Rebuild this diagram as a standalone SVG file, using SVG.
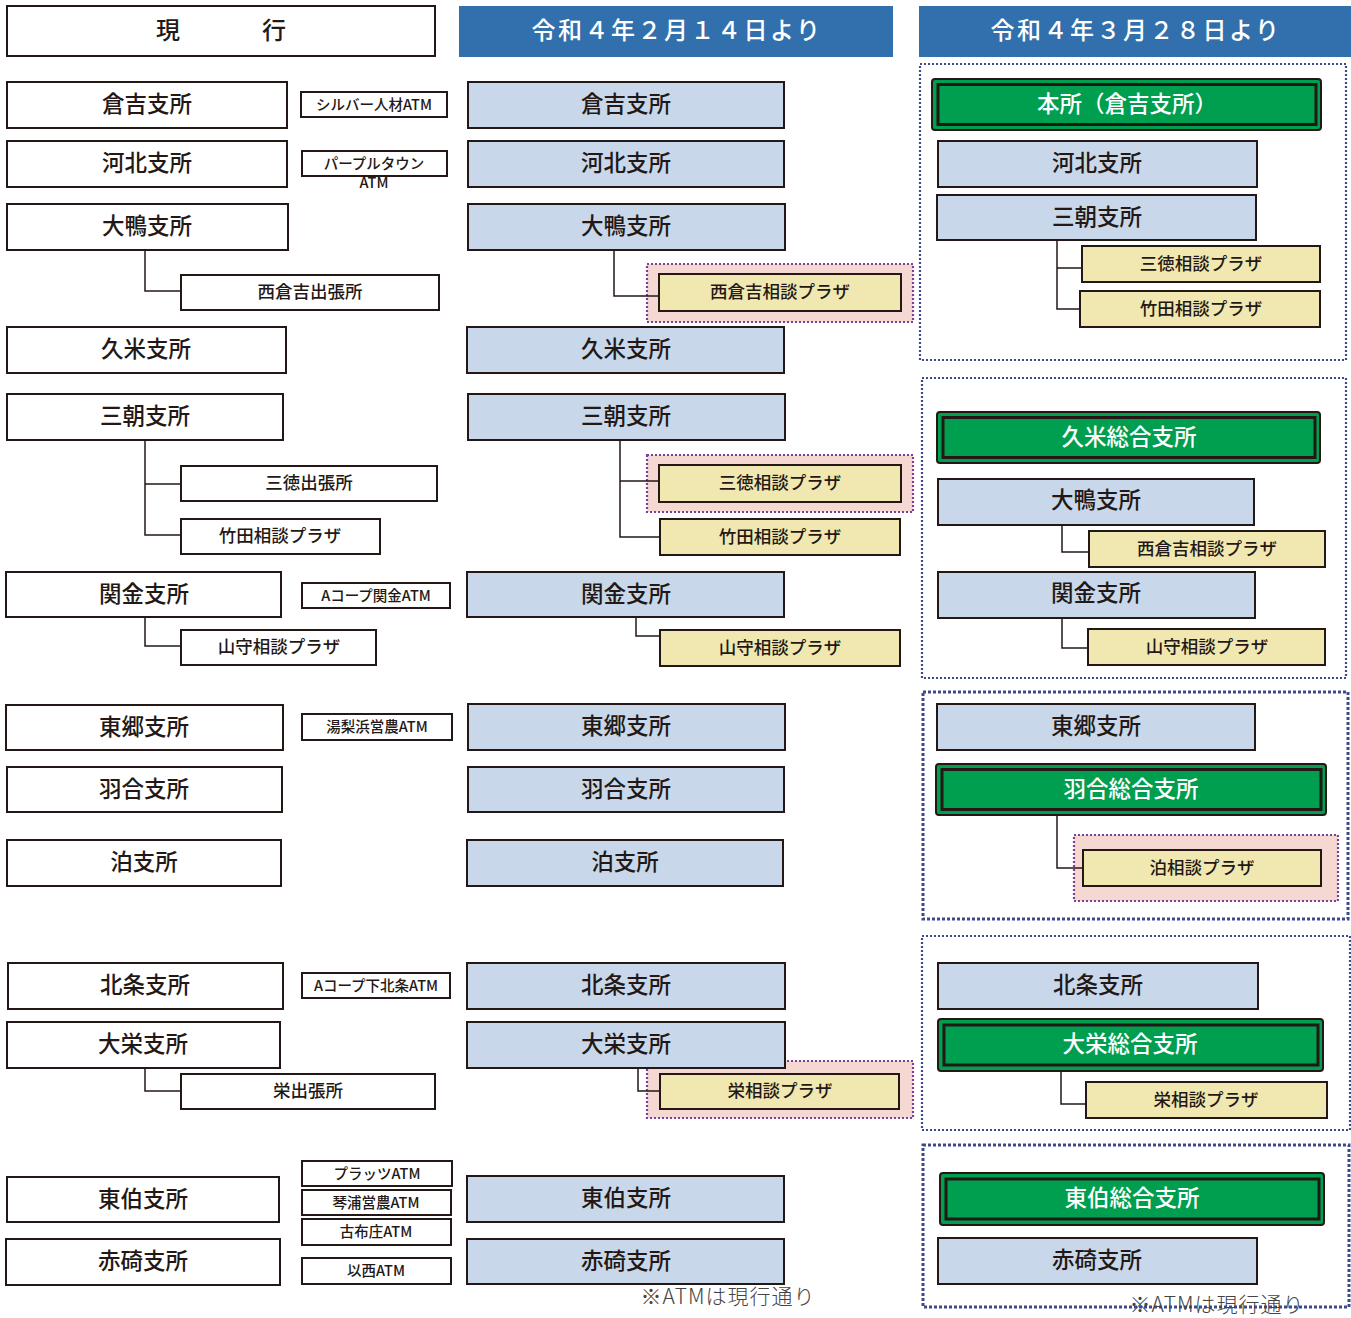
<svg xmlns="http://www.w3.org/2000/svg" width="1351" height="1318" viewBox="0 0 1351 1318">
<style>
text{font-family:"Noto Sans CJK JP","Noto Sans",sans-serif;fill:#231815;text-anchor:middle;dominant-baseline:central}
.b{fill:#fff;stroke:#231815;stroke-width:2}
.l{fill:#c8d8ea;stroke:#231815;stroke-width:2}
.y{fill:#f0e8b0;stroke:#231815;stroke-width:2}
.hd{fill:#3170ad}
.go{fill:#009e4f;stroke:#231815;stroke-width:2}
.gi{fill:none;stroke:#231815;stroke-width:3}
.pk{fill:#f5d8d2;stroke:#7b3f98;stroke-width:2.2;stroke-dasharray:2 2}
.grp{fill:none;stroke:#3c4a8c;stroke-width:2.2;stroke-dasharray:2 2}
.grp2{fill:none;stroke:#3c4a8c;stroke-width:3;stroke-dasharray:3 2}
.c{fill:none;stroke:#231815;stroke-width:1.5}
.n{font-size:22.5px;font-weight:500;transform:translateY(-3px)}
.p{font-size:17.5px;font-weight:500;transform:translateY(-2px)}
.a{font-size:14.5px;font-weight:500;transform:translateY(-1.5px)}
.h{font-size:24px;font-weight:500;fill:#fff;letter-spacing:2.5px;transform:translateY(-3px)}
.w{fill:#fff}
.note{font-size:21px;font-weight:300;fill:#444;letter-spacing:1px;transform:translateY(-2px)}
</style>

<!-- background groups -->
<g id="groups">
<rect class="grp" x="920" y="64" width="426" height="296"/>
<rect class="grp" x="922" y="378" width="424" height="300"/>
<rect class="grp2" x="923" y="692" width="425" height="227"/>
<rect class="grp" x="922" y="936" width="428" height="194"/>
<rect class="grp2" x="923" y="1145" width="426" height="162"/>
<rect class="pk" x="647" y="264" width="266" height="58"/>
<rect class="pk" x="647" y="455" width="266" height="57"/>
<rect class="pk" x="647" y="1061" width="266" height="57"/>
<rect class="pk" x="1074" y="835" width="264" height="66"/>
</g>

<g id="connectors">
<path class="c" d="M145 250V291H181"/>
<path class="c" d="M145 440V535H181M145 484H181"/>
<path class="c" d="M145 617V646H181"/>
<path class="c" d="M145 1068V1091H181"/>
<path class="c" d="M614 250V296H660"/>
<path class="c" d="M620 440V537H660M620 481H659"/>
<path class="c" d="M636 617V636H660"/>
<path class="c" d="M638 1068V1091H660"/>
<path class="c" d="M1057 240V309H1080M1057 268H1082"/>
<path class="c" d="M1062 525V552H1089"/>
<path class="c" d="M1062 618V648H1088"/>
<path class="c" d="M1057 815V868H1083"/>
<path class="c" d="M1061 1071V1104H1086"/>
</g>

<!-- headers -->
<g id="h1"><rect class="b" x="7" y="6" width="428" height="50"/><text class="h" style="fill:#231815;letter-spacing:0" y="31"><tspan x="168">現</tspan><tspan x="274">行</tspan></text></g>
<g id="h2"><rect class="hd" x="459" y="6" width="434" height="51"/><text class="h" x="677" y="31">令和４年２月１４日より</text></g>
<g id="h3"><rect class="hd" x="919" y="6" width="432" height="51"/><text class="h" x="1136" y="31">令和４年３月２８日より</text></g>

<!-- column 1 -->
<g id="c1-kurayoshi"><rect class="b" x="7" y="82" width="280" height="46"/><text class="n" x="147" y="105">倉吉支所</text></g>
<g id="c1-atm1"><rect class="b" x="301" y="92" width="146" height="25"/><text class="a" x="374" y="104.5">シルバー人材ATM</text></g>
<g id="c1-hokuhoku"><rect class="b" x="7" y="141" width="280" height="46"/><text class="n" x="147" y="164">河北支所</text></g>
<g id="c1-atm2"><rect class="b" x="302" y="151" width="145" height="25"/><text class="a" x="374" y="164">パープルタウン</text><text class="a" x="374" y="183">ATM</text></g>
<g id="c1-ogamo"><rect class="b" x="7" y="204" width="281" height="46"/><text class="n" x="147" y="227">大鴨支所</text></g>
<g id="c1-nishikurayoshi"><rect class="b" x="181" y="275" width="258" height="35"/><text class="p" x="310" y="292.5">西倉吉出張所</text></g>
<g id="c1-kume"><rect class="b" x="7" y="327" width="279" height="46"/><text class="n" x="146" y="350">久米支所</text></g>
<g id="c1-misasa"><rect class="b" x="7" y="394" width="276" height="46"/><text class="n" x="145" y="417">三朝支所</text></g>
<g id="c1-mitoku"><rect class="b" x="181" y="466" width="256" height="35"/><text class="p" x="309" y="483.5">三徳出張所</text></g>
<g id="c1-takeda"><rect class="b" x="181" y="519" width="199" height="35"/><text class="p" x="280" y="536.5">竹田相談プラザ</text></g>
<g id="c1-sekigane"><rect class="b" x="6" y="572" width="275" height="45"/><text class="n" x="144" y="594.5">関金支所</text></g>
<g id="c1-atm3"><rect class="b" x="302" y="583" width="148" height="25"/><text class="a" x="376" y="595.5">Aコープ関金ATM</text></g>
<g id="c1-yamamori"><rect class="b" x="181" y="630" width="195" height="35"/><text class="p" x="279" y="647.5">山守相談プラザ</text></g>
<g id="c1-togo"><rect class="b" x="6" y="705" width="277" height="45"/><text class="n" x="144" y="727.5">東郷支所</text></g>
<g id="c1-atm4"><rect class="b" x="302" y="714" width="150" height="26"/><text class="a" x="377" y="727">湯梨浜営農ATM</text></g>
<g id="c1-hawai"><rect class="b" x="7" y="767" width="275" height="45"/><text class="n" x="144" y="789.5">羽合支所</text></g>
<g id="c1-tomari"><rect class="b" x="7" y="840" width="274" height="46"/><text class="n" x="144" y="863">泊支所</text></g>
<g id="c1-hojo"><rect class="b" x="8" y="963" width="275" height="46"/><text class="n" x="145" y="986">北条支所</text></g>
<g id="c1-atm5"><rect class="b" x="302" y="973" width="148" height="25"/><text class="a" x="376" y="985.5">Aコープ下北条ATM</text></g>
<g id="c1-daiei"><rect class="b" x="7" y="1022" width="273" height="46"/><text class="n" x="143" y="1045">大栄支所</text></g>
<g id="c1-sakae"><rect class="b" x="181" y="1074" width="254" height="35"/><text class="p" x="308" y="1091.5">栄出張所</text></g>
<g id="c1-tohaku"><rect class="b" x="7" y="1177" width="272" height="45"/><text class="n" x="143" y="1199.5">東伯支所</text></g>
<g id="c1-akasaki"><rect class="b" x="6" y="1239" width="274" height="46"/><text class="n" x="143" y="1262">赤碕支所</text></g>
<g id="c1-atm6"><rect class="b" x="302" y="1161" width="150" height="25"/><text class="a" x="377" y="1173.5">プラッツATM</text></g>
<g id="c1-atm7"><rect class="b" x="302" y="1190" width="149" height="25"/><text class="a" x="376" y="1202.5">琴浦営農ATM</text></g>
<g id="c1-atm8"><rect class="b" x="302" y="1219" width="149" height="26"/><text class="a" x="376" y="1232">古布庄ATM</text></g>
<g id="c1-atm9"><rect class="b" x="302" y="1258" width="149" height="26"/><text class="a" x="376" y="1271">以西ATM</text></g>

<!-- column 2 -->
<g id="c2-kurayoshi"><rect class="l" x="468" y="82" width="316" height="46"/><text class="n" x="626" y="105">倉吉支所</text></g>
<g id="c2-hokuhoku"><rect class="l" x="468" y="141" width="316" height="46"/><text class="n" x="626" y="164">河北支所</text></g>
<g id="c2-ogamo"><rect class="l" x="468" y="204" width="317" height="46"/><text class="n" x="626" y="227">大鴨支所</text></g>
<g id="c2-nishikurayoshi"><rect class="y" x="659" y="274" width="242" height="37"/><text class="p" x="780" y="292.5">西倉吉相談プラザ</text></g>
<g id="c2-kume"><rect class="l" x="467" y="327" width="317" height="46"/><text class="n" x="626" y="350">久米支所</text></g>
<g id="c2-misasa"><rect class="l" x="468" y="394" width="317" height="46"/><text class="n" x="626" y="417">三朝支所</text></g>
<g id="c2-mitoku"><rect class="y" x="659" y="465" width="242" height="37"/><text class="p" x="780" y="483.5">三徳相談プラザ</text></g>
<g id="c2-takeda"><rect class="y" x="660" y="519" width="240" height="36"/><text class="p" x="780" y="537">竹田相談プラザ</text></g>
<g id="c2-sekigane"><rect class="l" x="467" y="572" width="317" height="45"/><text class="n" x="626" y="594.5">関金支所</text></g>
<g id="c2-yamamori"><rect class="y" x="660" y="630" width="240" height="36"/><text class="p" x="780" y="648">山守相談プラザ</text></g>
<g id="c2-togo"><rect class="l" x="468" y="704" width="317" height="46"/><text class="n" x="626" y="727">東郷支所</text></g>
<g id="c2-hawai"><rect class="l" x="468" y="767" width="316" height="45"/><text class="n" x="626" y="789.5">羽合支所</text></g>
<g id="c2-tomari"><rect class="l" x="467" y="840" width="316" height="46"/><text class="n" x="625" y="863">泊支所</text></g>
<g id="c2-hojo"><rect class="l" x="467" y="963" width="318" height="46"/><text class="n" x="626" y="986">北条支所</text></g>
<g id="c2-daiei"><rect class="l" x="467" y="1022" width="318" height="46"/><text class="n" x="626" y="1045">大栄支所</text></g>
<g id="c2-sakae"><rect class="y" x="660" y="1074" width="239" height="35"/><text class="p" x="780" y="1091.5">栄相談プラザ</text></g>
<g id="c2-tohaku"><rect class="l" x="467" y="1176" width="317" height="46"/><text class="n" x="626" y="1199">東伯支所</text></g>
<g id="c2-akasaki"><rect class="l" x="467" y="1239" width="317" height="45"/><text class="n" x="626" y="1261.5">赤碕支所</text></g>
<text class="note" x="728" y="1297">※ATMは現行通り</text>

<!-- column 3 -->
<g id="c3-honsho"><rect class="go" x="932" y="79" width="389" height="51" rx="3"/><rect class="gi" x="938" y="84.5" width="378" height="40"/><text class="n w" x="1127" y="104.5">本所（倉吉支所）</text></g>
<g id="c3-hokuhoku"><rect class="l" x="938" y="141" width="319" height="46"/><text class="n" x="1097" y="164">河北支所</text></g>
<g id="c3-misasa"><rect class="l" x="937" y="195" width="319" height="45"/><text class="n" x="1097" y="217.5">三朝支所</text></g>
<g id="c3-mitoku"><rect class="y" x="1082" y="246" width="238" height="36"/><text class="p" x="1201" y="264">三徳相談プラザ</text></g>
<g id="c3-takeda"><rect class="y" x="1080" y="291" width="240" height="36"/><text class="p" x="1201" y="309">竹田相談プラザ</text></g>

<g id="c3-kume"><rect class="go" x="937" y="412" width="383" height="51" rx="3"/><rect class="gi" x="943" y="417.5" width="372" height="40"/><text class="n w" x="1129" y="437.5">久米総合支所</text></g>
<g id="c3-ogamo"><rect class="l" x="938" y="479" width="316" height="46"/><text class="n" x="1096" y="501">大鴨支所</text></g>
<g id="c3-nishikurayoshi"><rect class="y" x="1089" y="531" width="236" height="36"/><text class="p" x="1207" y="549">西倉吉相談プラザ</text></g>
<g id="c3-sekigane"><rect class="l" x="938" y="572" width="317" height="46"/><text class="n" x="1096" y="594">関金支所</text></g>
<g id="c3-yamamori"><rect class="y" x="1088" y="629" width="237" height="36"/><text class="p" x="1207" y="647">山守相談プラザ</text></g>

<g id="c3-togo"><rect class="l" x="937" y="704" width="318" height="46"/><text class="n" x="1096" y="727">東郷支所</text></g>
<g id="c3-hawai"><rect class="go" x="936" y="764" width="390" height="51" rx="3"/><rect class="gi" x="942" y="769.5" width="379" height="40"/><text class="n w" x="1131" y="789.5">羽合総合支所</text></g>
<g id="c3-tomari"><rect class="y" x="1083" y="850" width="238" height="36"/><text class="p" x="1202" y="868">泊相談プラザ</text></g>

<g id="c3-hojo"><rect class="l" x="938" y="963" width="320" height="46"/><text class="n" x="1098" y="986">北条支所</text></g>
<g id="c3-daiei"><rect class="go" x="938" y="1019" width="385" height="52" rx="3"/><rect class="gi" x="944" y="1025" width="374" height="40"/><text class="n w" x="1130" y="1045">大栄総合支所</text></g>
<g id="c3-sakae"><rect class="y" x="1086" y="1082" width="241" height="36"/><text class="p" x="1206" y="1100">栄相談プラザ</text></g>

<g id="c3-tohaku"><rect class="go" x="940" y="1173" width="384" height="52" rx="3"/><rect class="gi" x="946" y="1179" width="373" height="40"/><text class="n w" x="1132" y="1199">東伯総合支所</text></g>
<g id="c3-akasaki"><rect class="l" x="938" y="1238" width="319" height="46"/><text class="n" x="1097" y="1261">赤碕支所</text></g>
<text class="note" x="1217" y="1305">※ATMは現行通り</text>
</svg>
